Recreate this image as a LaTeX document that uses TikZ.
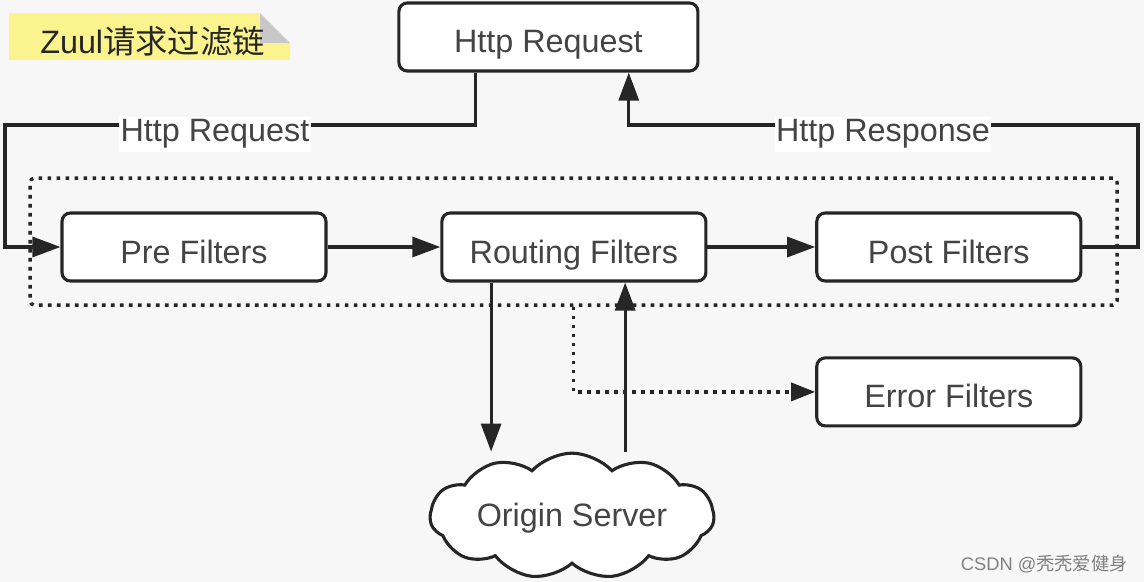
\documentclass[tikz,border=0pt]{standalone}
\usepackage{fontspec}
\setmainfont{Liberation Sans}
\newfontfamily\cjk{Noto Sans CJK SC}
\usetikzlibrary{arrows.meta}
\usetikzlibrary{calc}
\usetikzlibrary{positioning}
\usetikzlibrary{shapes.symbols}
\definecolor{bgcolor}{HTML}{F7F7F7}
\definecolor{ink}{HTML}{262626}
\definecolor{textcolor}{HTML}{444444}
\definecolor{tagyellow}{HTML}{FBF38E}
\definecolor{foldgray}{HTML}{C8C8C8}
\tikzset{
  filterbox/.style = {
    draw = ink, line width = 2.2pt, fill = white,
    rounded corners = 6pt,
    minimum width = 6.6cm, minimum height = 1.7cm,
    text height = 0.8cm, text depth = 0pt,
    inner sep = 0,
  },
  flowline/.style = {
    draw = ink, line width = 2.2pt,
    -{Triangle[length = 7mm, width = 5mm]},
  },
  dotline/.style = {
    draw = ink, line width = 2.4pt,
    dash pattern = on 2.6pt off 3.8pt,
  },
  linetext/.style = {
    fill = white, inner xsep = 1pt, inner ysep = 2pt,
    anchor = base,
  },
}
\begin{document}
\begin{tikzpicture}[
    every node/.style = {
      font = \fontsize{23}{27}\selectfont,
      text = textcolor,
    }
  ]
  \fill[bgcolor] (0,0) rectangle (28.6,-14.55);
  \useasboundingbox (0,0) rectangle (28.6,-14.55);

  % Title tag
  \fill[tagyellow] (0.22,-0.33) -- (6.5,-0.33) -- (7.25,-1.08)
    -- (7.25,-1.5) -- (0.22,-1.5) -- cycle;
  \fill[foldgray] (6.5,-0.33) -- (7.25,-1.08) -- (6.5,-1.08) -- cycle;
  \node[anchor = base west, inner sep = 0, text = black!85] (title)
    at (1.0,-1.33) {Zuul{\cjk 请求过滤链}};

  % Filter chain
  \node[dotline, rounded corners = 3pt, inner sep = 0,
    minimum width = 27.175cm, minimum height = 3.175cm] (chain)
    at (14.34,-6.04) {};
  \node[filterbox, minimum width = 7.475cm] (req) at (13.71,-0.925) {Http Request};
  \node[filterbox] (pre) at (4.85,-6.175) {Pre Filters};
  \node[filterbox, right = 2.82cm of pre] (routing) {Routing Filters};
  \node[filterbox, right = 2.695cm of routing] (post) {Post Filters};
  \node[filterbox, below = 1.845cm of post] (error) {Error Filters};
  \node[cloud, draw = ink, line width = 2.2pt, fill = white,
    cloud puffs = 11, cloud puff arc = 95, aspect = 2.8, inner sep = 0,
    minimum width = 7.1cm, minimum height = 2.25cm,
    text height = 0.5cm, text depth = 0pt] (origin)
    at (14.3,-12.9) {Origin Server};

  % Connectors
  \coordinate (reqout) at ($(req.south west)!0.26!(req.south east)$);
  \coordinate (reqin) at ($(req.south west)!0.766!(req.south east)$);
  \coordinate (leftturn) at (0.125,-3.125);
  \coordinate (rightturn) at (28.45,-3.125);
  \coordinate (down) at ($(routing.south west)!0.19!(routing.south east)$);
  \coordinate (up) at ($(routing.south west)!0.692!(routing.south east)$);

  \draw[flowline] (reqout) |- (leftturn) |- (pre.west);
  \draw[flowline] (post.east) -| (rightturn) -| (reqin);
  \draw[flowline] (pre) -- (routing);
  \draw[flowline] (routing) -- (post);
  \draw[flowline] (down) -- (down |- origin.north);
  \draw[flowline] (up |- origin.north) -- (up);
  \draw[dotline, -{Triangle[length = 6mm, width = 4.5mm]}]
    (chain.south) |- (error.west);

  \node[linetext] (reqlabel) at (5.375,-3.55) {Http Request};
  \node[linetext] (rsplabel) at (22.075,-3.55) {Http Response};

  % Watermark
  \node[anchor = base east, inner sep = 0, text = gray,
    font = \fontsize{13}{15}\selectfont] (mark)
    at (28.2,-14.25) {CSDN @{\cjk 秃秃爱健身}};
\end{tikzpicture}
\end{document}
